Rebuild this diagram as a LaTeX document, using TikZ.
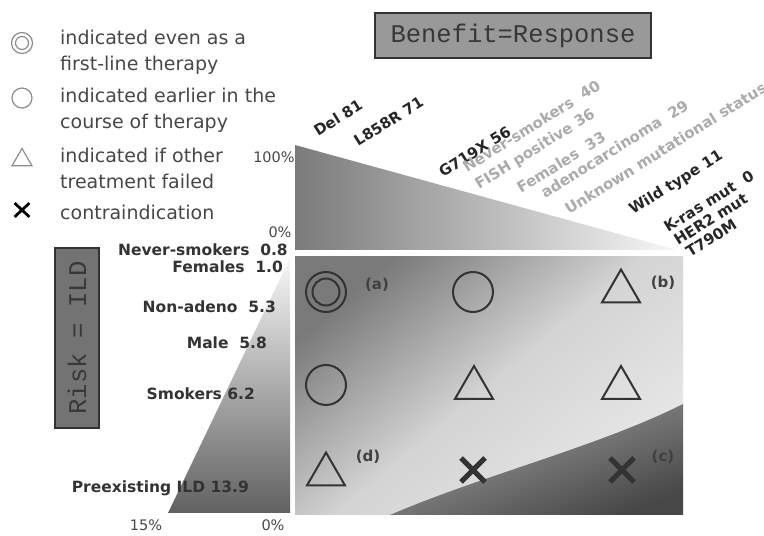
\documentclass[tikz,border=0pt]{standalone}
\usepackage{fontspec}
\setmainfont{DejaVu Sans}
\newfontfamily\monofont{Liberation Mono}
\usepackage{tikz}
\usetikzlibrary{shapes.geometric,shapes.misc}

\begin{document}
\begin{tikzpicture}[x=1pt,y=1pt,every node/.style={inner sep=0pt},
keytext/.style={anchor=west,align=left,text=black!72,font=\fontsize{19}{26}\selectfont},
keysym/.style={draw=black!45,line width=1.2pt},
sym/.style={draw=black!80,line width=2pt},
ringsym/.style={sym,circle,minimum size=40pt},
trisym/.style={sym,regular polygon,regular polygon sides=3,minimum size=44pt},
crosssym/.style={sym,cross out,line width=5pt,minimum size=19pt},
tag/.style={font=\bfseries\fontsize{15}{18}\selectfont,text=black!75},
factor/.style={anchor=east,font=\bfseries\fontsize{15.5}{18}\selectfont,text=black!80},
tilted/.style={anchor=base west,rotate=32,font=\bfseries\fontsize{15}{18}\selectfont,text=black!85},
faint/.style={text=black!33},
pct/.style={font=\fontsize{14.5}{16}\selectfont,text=black!72},
titlebox/.style={draw=black!80,line width=2.5pt,font=\monofont\fontsize{25.5}{28}\selectfont,text=black!78}]
\useasboundingbox (0,0) rectangle (764,536);

\shade[left color=black!52,right color=black!3] (295,391) -- (295,286) -- (677,286) -- cycle;
\shade[top color=black!3,bottom color=black!62] (290,278) -- (290,23) -- (168,23) -- cycle;
\shade[top color=black!52,bottom color=black!9,middle color=black!17,shading angle=40] (295,279) rectangle (683,21);
\shade[top color=black!36,bottom color=black!72,shading angle=20] (390,21) .. controls (480,60) and (600,90) .. (683,132) -- (683,21) -- cycle;

\node[titlebox,fill=black!40,minimum width=276pt,minimum height=45pt] (benefit) at (513,500.5) {Benefit=Response};
\node[titlebox,fill=black!55,minimum width=180pt,minimum height=44pt,rotate=90] (risk) at (77,198) {Risk = ILD};

\node[keysym,circle,minimum size=21pt] (keyringA) at (22,493) {};
\draw[keysym] (keyringA.center) circle[radius=6.5];
\node[keysym,circle,minimum size=20pt] (keyringB) at (22,438) {};
\node[keysym,regular polygon,regular polygon sides=3,minimum size=23pt] (keytri) at (22,376) {};
\node[keysym,cross out,draw=black,line width=2.8pt,minimum width=12pt,minimum height=11pt] (keycross) at (22,326) {};
\node[keytext] (keyA) at (60,483.5) {indicated even as a\\first-line therapy};
\node[keytext] (keyB) at (60,426) {indicated earlier in the\\course of therapy};
\node[keytext] (keyC) at (60,367.5) {indicated if other\\treatment failed};
\node[keytext] (keyD) at (60,324) {contraindication};

\node[pct] (top100) at (274,379) {100\%};
\node[pct] (top0) at (280,304) {0\%};
\node[pct] (left15) at (146,11) {15\%};
\node[pct] (left0) at (273,11) {0\%};

\node[factor] (nsL) at (288,286) {Never-smokers~~0.8};
\node[factor] (femL) at (283,269) {Females~~1.0};
\node[factor] (nonadeno) at (276,229) {Non-adeno~~5.3};
\node[factor] (male) at (267,193) {Male~~5.8};
\node[factor] (smokers) at (255,142) {Smokers 6.2};
\node[factor] (ild) at (249,48) {Preexisting ILD 13.9};

\node[tilted] (del) at (318,399) {Del 81};
\node[tilted] (l858r) at (358,389) {L858R 71};
\node[tilted] (g719x) at (443,358) {G719X 56};
\node[tilted,faint] (nsT) at (467,363) {Never-smokers~~40};
\node[tilted,faint] (fish) at (479,346) {FISH positive 36};
\node[tilted,faint] (femT) at (521,342) {Females~~33};
\node[tilted,faint] (adeno) at (545,337) {adenocarcinoma~~29};
\node[tilted,faint] (unknown) at (569,321) {Unknown mutational status};
\node[tilted] (wild) at (633,321) {Wild type 11};
\node[tilted] (kras) at (668,303) {K-ras mut~~0};
\node[tilted] (her2) at (678,290) {HER2 mut};
\node[tilted] (t790m) at (690,278) {T790M};

\node[ringsym] (cellA) at (326,244) {};
\draw[sym] (cellA.center) circle[radius=13.5];
\node[ringsym] (cellB) at (473,244) {};
\node[trisym] (cellC) at (621,244.5) {};
\node[ringsym] (cellD) at (326,151) {};
\node[trisym] (cellE) at (474,148) {};
\node[trisym] (cellF) at (621,148) {};
\node[trisym] (cellG) at (326,61.5) {};
\node[crosssym] (cellH) at (473,66) {};
\node[crosssym] (cellI) at (622,66) {};
\node[tag] (tagA) at (377,251) {(a)};
\node[tag] (tagB) at (663,253) {(b)};
\node[tag] (tagD) at (368,79) {(d)};
\node[tag] (tagC) at (663,79) {(c)};
\end{tikzpicture}
\end{document}
